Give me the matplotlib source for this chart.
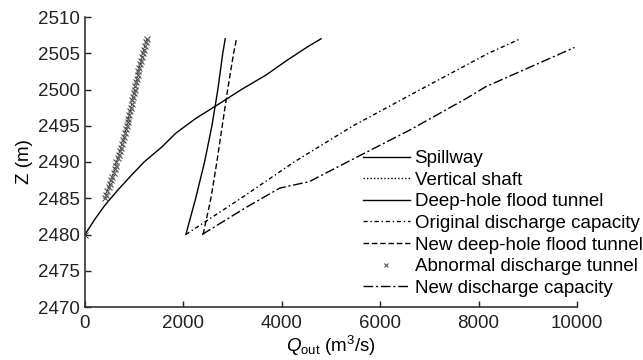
import matplotlib
matplotlib.use('Agg')
import matplotlib.pyplot as plt
import numpy as np

plt.rcParams['font.family'] = ['Liberation Sans', 'DejaVu Sans']
plt.rcParams['mathtext.fontset'] = 'custom'
plt.rcParams['mathtext.it'] = 'Liberation Sans:italic'
plt.rcParams['mathtext.rm'] = 'Liberation Sans'

# spillway
spill_z = [2480, 2482, 2484, 2486, 2488, 2490, 2492, 2494, 2496, 2498, 2500, 2502, 2504, 2506, 2507]
spill_q = [0, 190, 400, 650, 920, 1200, 1550, 1850, 2250, 2720, 3180, 3680, 4100, 4550, 4800]

# vertical shaft (dotted, under the markers)
shaft_z = [2485, 2486, 2487, 2488, 2489, 2490, 2491, 2492, 2493, 2494, 2495, 2496,
           2497, 2498, 2499, 2500, 2501, 2502, 2503, 2504, 2505, 2506, 2507]
shaft_q = [400, 455, 505, 555, 600, 640, 690, 735, 780, 814, 848, 882,
           916, 950, 980, 1010, 1040, 1070, 1100, 1140, 1180, 1220, 1260]

# deep-hole flood tunnel
deep_z = [2480, 2485, 2490, 2495, 2500, 2505, 2507]
deep_q = [2050, 2250, 2430, 2580, 2700, 2800, 2850]

# original discharge capacity
orig_z = [2480, 2485, 2490, 2495, 2500, 2505, 2507]
orig_q = [2050, 3170, 4250, 5450, 6820, 8200, 8850]

# new deep-hole flood tunnel
newdeep_z = [2480, 2485, 2490, 2495, 2500, 2505, 2507]
newdeep_q = [2400, 2560, 2680, 2790, 2900, 3020, 3080]

# abnormal discharge tunnel (markers)
abn_z = [2480, 2485, 2485.5, 2486, 2486.5, 2487, 2487.5, 2488, 2488.5, 2489, 2489.5,
         2490, 2490.5, 2491, 2491.5, 2492, 2492.5, 2493, 2493.5, 2494, 2494.5,
         2495, 2495.5, 2496, 2496.5, 2497, 2497.5, 2498, 2498.5, 2499, 2499.5,
         2500, 2500.5, 2501, 2501.5, 2502, 2502.5, 2503, 2503.5, 2504, 2504.5,
         2505, 2505.5, 2506, 2506.5, 2507]
abn_q = [0, 400, 430, 455, 480, 505, 530, 555, 580, 600, 620,
         640, 665, 690, 712, 735, 758, 780, 797, 814, 831,
         848, 865, 882, 899, 916, 933, 950, 965, 980, 995,
         1010, 1025, 1040, 1055, 1070, 1085, 1100, 1120, 1140, 1160,
         1180, 1200, 1220, 1240, 1260]

# new discharge capacity
new_z = [2480, 2483.8, 2486.4, 2487.3, 2490.9, 2494.4, 2498.8, 2500.4, 2505.8]
new_q = [2380, 3290, 3960, 4560, 5590, 6600, 7760, 8150, 9950]

fig = plt.figure(figsize=(6.43, 3.6), dpi=100)
ax = fig.add_axes([85/643, 53/360, 492/643, 290/360])

lw = 1.0
fs = 13.5
ax.plot(spill_q, spill_z, color='black', lw=lw, label='Spillway')
ax.plot(shaft_q, shaft_z, color='black', lw=lw, ls=(0, (1, 1.5)), label='Vertical shaft')
ax.plot(deep_q, deep_z, color='black', lw=lw, label='Deep-hole flood tunnel')
ax.plot(orig_q, orig_z, color='black', lw=lw, ls=(0, (3, 2, 1, 2)), label='Original discharge capacity')
ax.plot(newdeep_q, newdeep_z, color='black', lw=lw, ls=(0, (4, 2)), label='New deep-hole flood tunnel')
ax.plot(abn_q, abn_z, ls='none', marker='x', ms=4, mew=0.8, color='#555555',
        label='Abnormal discharge tunnel')
ax.plot(new_q, new_z, color='black', lw=lw, ls=(0, (7, 2, 1.5, 2)), label='New discharge capacity')

ax.set_xlim(0, 10000)
ax.set_ylim(2470, 2510)
ax.set_xticks(np.arange(0, 10001, 2000))
ax.set_yticks(np.arange(2470, 2511, 5))
ax.spines['top'].set_visible(False)
ax.spines['right'].set_visible(False)
for s in ['left', 'bottom']:
    ax.spines[s].set_linewidth(1.2)
    ax.spines[s].set_color('#333333')
ax.tick_params(direction='in', length=4, width=1, labelsize=fs, colors='#222222')
ax.tick_params(axis='x', pad=6)
ax.set_xlabel('$Q_{\\mathrm{out}}$ (m$^3$/s)', fontsize=fs, labelpad=1)
ax.set_ylabel('Z (m)', fontsize=fs, labelpad=4)

fig.legend(loc='upper left', bbox_to_anchor=(363/643, 1 - 150/360), frameon=False,
           fontsize=fs, handlelength=2.5, handletextpad=0.25, labelspacing=0.24,
           borderpad=0, borderaxespad=0, markerscale=0.6)

fig.savefig('out.png', dpi=100)
